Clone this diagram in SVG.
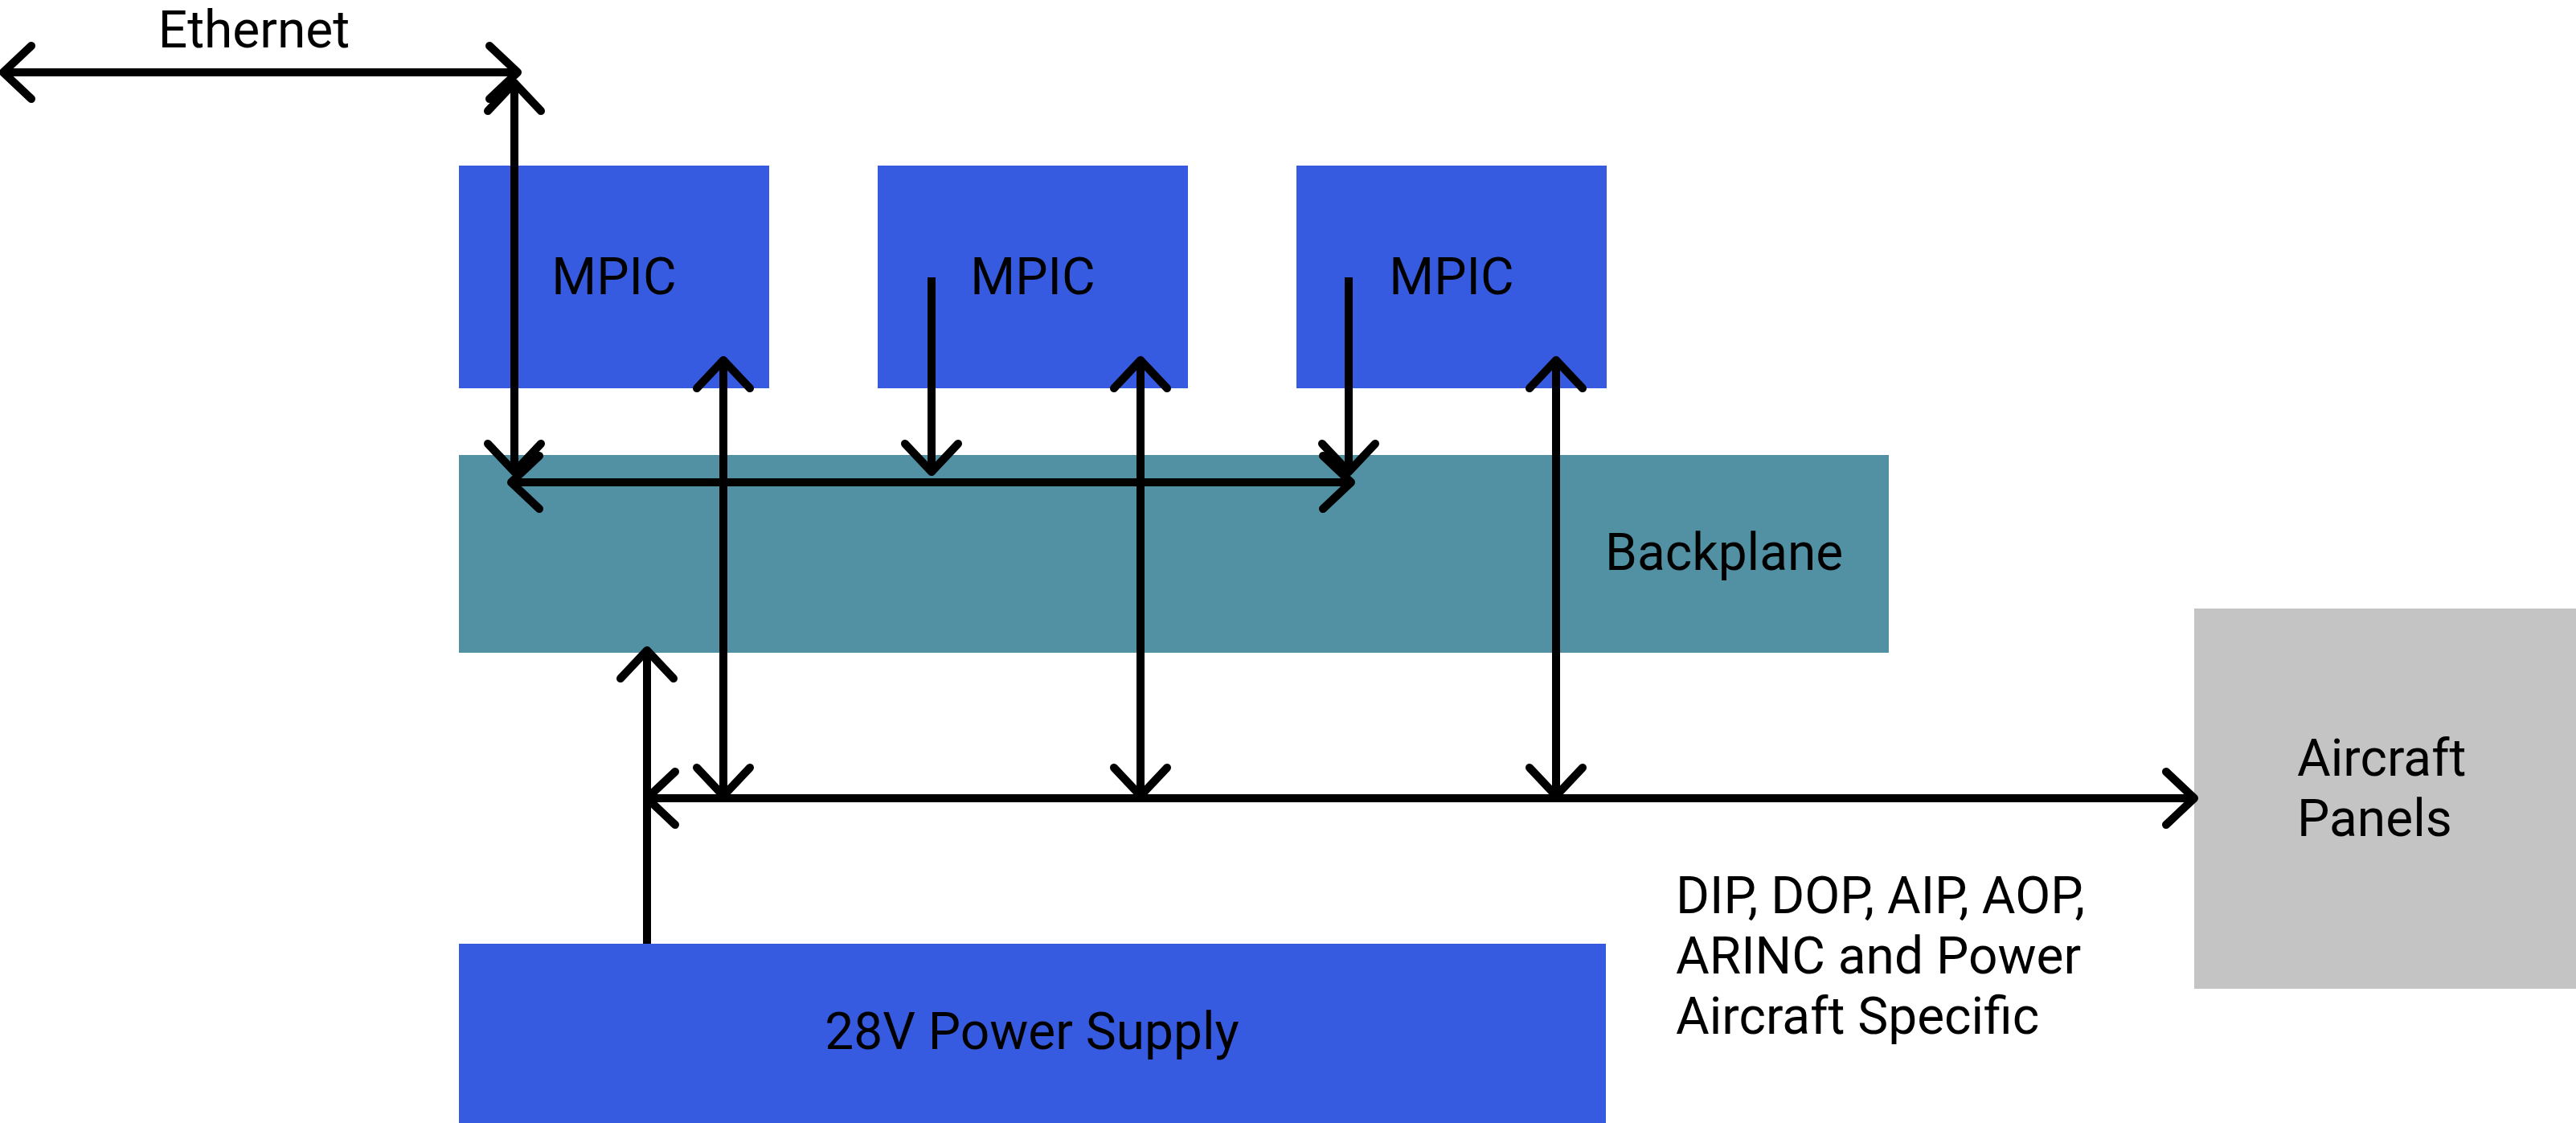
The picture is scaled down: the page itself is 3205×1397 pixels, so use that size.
<svg xmlns="http://www.w3.org/2000/svg" width="3205" height="1397" viewBox="0 0 3205 1397">
  <style>
    .lbl { font-family: Roboto, "Liberation Sans", sans-serif; font-size: 64px; fill: #000; }
    .mid { text-anchor: middle; }
    .blue { fill: #365BE0; }
    .teal { fill: #5291A4; }
    .gray { fill: #C4C4C4; }
    .wire { fill: none; stroke: #000; stroke-width: 10; }
  </style>
  <defs>
    <marker id="arr" markerUnits="userSpaceOnUse" markerWidth="100" markerHeight="100" viewBox="-50 -50 100 100" refX="0" refY="0" orient="auto-start-reverse" overflow="visible">
      <path d="M-35,-33 L0,0 L-35,33" fill="none" stroke="#000" stroke-width="10" stroke-linecap="round" stroke-linejoin="round"/>
    </marker>
  </defs>
  <rect width="3205" height="1397" fill="#fff"/>

  <g id="mpic1">
    <rect class="blue" x="571" y="206" width="386" height="277"/>
    <text class="lbl mid" x="764" y="366">MPIC</text>
  </g>
  <g id="mpic2">
    <rect class="blue" x="1092" y="206" width="386" height="277"/>
    <text class="lbl mid" x="1285" y="366">MPIC</text>
  </g>
  <g id="mpic3">
    <rect class="blue" x="1613" y="206" width="386" height="277"/>
    <text class="lbl mid" x="1806" y="366">MPIC</text>
  </g>
  <g id="backplane">
    <rect class="teal" x="571" y="566" width="1779" height="246"/>
    <text class="lbl" x="1997" y="709">Backplane</text>
  </g>
  <g id="power-supply">
    <rect class="blue" x="571" y="1174" width="1427" height="223"/>
    <text class="lbl mid" x="1284" y="1305">28V Power Supply</text>
  </g>
  <g id="aircraft-panels">
    <rect class="gray" x="2730" y="757" width="475" height="473"/>
    <text class="lbl" x="2858" y="965">Aircraft</text>
    <text class="lbl" x="2858" y="1040">Panels</text>
  </g>

  <g id="connectors">
    <path class="wire" d="M4,90 H644" marker-start="url(#arr)" marker-end="url(#arr)"/>
    <path class="wire" d="M640,103 V587" marker-start="url(#arr)" marker-end="url(#arr)"/>
    <path class="wire" d="M636,600 H1681" marker-start="url(#arr)" marker-end="url(#arr)"/>
    <path class="wire" d="M1159,345 V587" marker-end="url(#arr)"/>
    <path class="wire" d="M1678,345 V587" marker-end="url(#arr)"/>
    <path class="wire" d="M900,448 V990" marker-start="url(#arr)" marker-end="url(#arr)"/>
    <path class="wire" d="M1419,448 V990" marker-start="url(#arr)" marker-end="url(#arr)"/>
    <path class="wire" d="M1936,448 V990" marker-start="url(#arr)" marker-end="url(#arr)"/>
    <path class="wire" d="M805,1174 V809" marker-end="url(#arr)"/>
    <path class="wire" d="M805,993 H2730" marker-start="url(#arr)" marker-end="url(#arr)"/>
  </g>

  <g id="labels">
    <text class="lbl mid" x="316" y="59">Ethernet</text>
    <text class="lbl" x="2085" y="1136">DIP, DOP, AIP, AOP,</text>
    <text class="lbl" x="2085" y="1211">ARINC and Power</text>
    <text class="lbl" x="2085" y="1286">Aircraft Specific</text>
  </g>
</svg>
